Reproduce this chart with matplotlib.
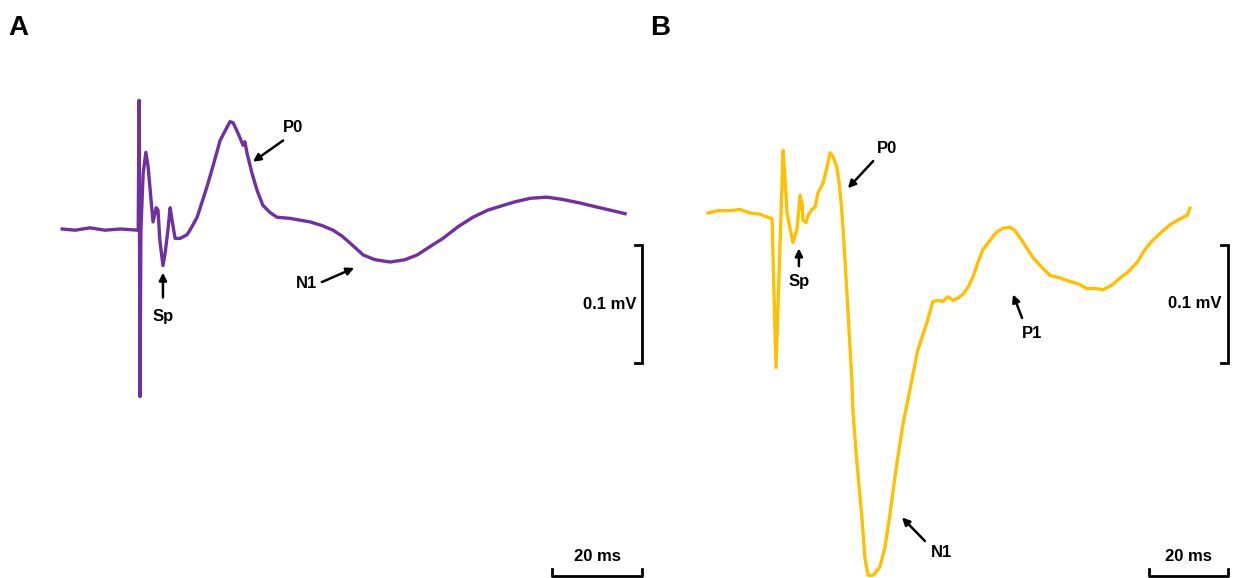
import numpy as np
import matplotlib.pyplot as plt

plt.rcParams['font.family'] = ['Liberation Sans', 'DejaVu Sans']

# panel A trace (time ms from stimulus, voltage mV)
t_a = [-17.3, -14.4, -11.1, -7.8, -4.4, -0.4, -0.2, 0.0, 0.2, 0.7, 1.3, 1.8, 2.4, 2.9, 3.6, 4.0,
       4.4, 5.1, 5.6, 6.2, 6.7, 7.1, 7.8, 8.9, 10.4, 11.1, 12.7, 14.9, 16.2, 17.8, 19.3, 20.0,
       20.7, 21.8, 22.9, 23.3, 23.8, 24.9, 26.0, 27.3, 28.9, 30.4, 33.3, 37.8, 40.4, 42.9, 44.9,
       46.7, 49.6, 52.2, 55.6, 58.9, 61.6, 64.4, 67.3, 70.7, 74.0, 77.3, 80.7, 83.3, 86.7, 90.4,
       94.0, 97.8, 102.2, 105.6, 107.8]
v_a = [0.0, -0.001, 0.001, -0.001, 0.0, -0.001, 0.109, -0.142, -0.001, 0.047, 0.065, 0.053,
       0.027, 0.006, 0.018, 0.016, -0.009, -0.031, -0.020, -0.001, 0.018, 0.008, -0.008, -0.008,
       -0.005, -0.001, 0.010, 0.036, 0.053, 0.075, 0.086, 0.091, 0.090, 0.081, 0.071, 0.074,
       0.064, 0.047, 0.033, 0.020, 0.014, 0.010, 0.009, 0.006, 0.003, -0.001, -0.006, -0.012,
       -0.022, -0.026, -0.028, -0.026, -0.022, -0.015, -0.008, 0.002, 0.010, 0.016, 0.020,
       0.023, 0.026, 0.027, 0.025, 0.022, 0.018, 0.015, 0.013]

# panel B trace
t_b = [-17.2, -14.7, -11.6, -9.1, -6.6, -4.1, -1.0, 0.0, 1.8, 2.3, 2.8, 3.5, 4.3, 5.3, 6.1,
       6.6, 6.8, 7.6, 8.1, 9.1, 9.9, 10.6, 11.9, 12.9, 13.7, 14.4, 15.4, 15.9, 16.5, 17.0, 17.5,
       18.2, 19.2, 19.5, 20.5, 21.8, 22.5, 23.3, 24.6, 26.3, 27.6, 28.9, 30.6, 32.2, 33.9, 35.9,
       38.2, 39.7, 41.0, 42.3, 43.5, 44.8, 46.1, 47.3, 48.6, 49.9, 51.1, 52.4, 54.2, 55.9, 57.5,
       59.2, 60.5, 61.8, 65.1, 67.3, 69.4, 71.9, 74.4, 76.5, 78.7, 80.8, 82.8, 85.1, 87.1, 89.1,
       91.4, 93.4, 95.4, 97.7, 99.7, 102.3, 104.1, 104.8]
v_b = [0.0, 0.002, 0.002, 0.003, 0.0, -0.001, -0.005, -0.131, 0.053, 0.028, 0.0, -0.012,
       -0.025, -0.014, 0.015, 0.008, -0.006, -0.008, -0.002, 0.003, 0.005, 0.017, 0.025, 0.039,
       0.051, 0.048, 0.039, 0.028, 0.008, -0.014, -0.042, -0.082, -0.142, -0.169, -0.212,
       -0.260, -0.292, -0.307, -0.307, -0.300, -0.283, -0.254, -0.212, -0.178, -0.150, -0.116,
       -0.093, -0.075, -0.074, -0.075, -0.071, -0.074, -0.072, -0.069, -0.063, -0.054, -0.042,
       -0.031, -0.023, -0.016, -0.013, -0.012, -0.015, -0.021, -0.038, -0.046, -0.053, -0.055,
       -0.058, -0.060, -0.064, -0.064, -0.065, -0.061, -0.055, -0.050, -0.042, -0.031, -0.023,
       -0.016, -0.010, -0.005, -0.002, 0.004]

# peak labels: (label, text pos, arrow tail, arrow tip)
peaks_a = [('P0', (34.0, 0.086), (31.8, 0.075), (25.1, 0.057)),
           ('Sp', (5.1, -0.074), (5.1, -0.058), (5.1, -0.037)),
           ('N1', (36.9, -0.046), (40.4, -0.045), (47.6, -0.033))]
peaks_b = [('P0', (28.1, 0.055), (24.6, 0.044), (18.2, 0.021)),
           ('Sp', (5.8, -0.058), (5.8, -0.045), (5.8, -0.030)),
           ('N1', (41.8, -0.288), (37.7, -0.278), (31.9, -0.258)),
           ('P1', (64.8, -0.102), (62.3, -0.089), (60.0, -0.069))]

W, H = 1233, 578
fig = plt.figure(figsize=(W / 100, H / 100), dpi=100)
MV_PX = 1180.0


def panel(x0, ms_px, base_px, t, v, color, peaks, bar_x, bar_top):
    ax = fig.add_axes([0, 0, 1, 1])
    ax.patch.set_alpha(0)
    ax.set_xlim(-x0 / ms_px, (W - x0) / ms_px)
    ax.set_ylim((base_px - H) / MV_PX, base_px / MV_PX)
    ax.axis('off')
    ax.plot(t, v, color=color, lw=2.4, solid_joinstyle='round', clip_on=False)
    for lab, tp, tail, tip in peaks:
        ax.text(tp[0], tp[1], lab, fontsize=12, fontweight='bold', ha='center', va='center')
        ax.annotate('', xy=tip, xytext=tail,
                    arrowprops=dict(arrowstyle='-|>', color='black', lw=1.8,
                                    mutation_scale=11, shrinkA=0, shrinkB=0))
    # scale bars
    tick_t = 7 / ms_px
    tick_v = 7 / MV_PX
    ax.plot([bar_x - tick_t, bar_x, bar_x, bar_x - tick_t],
            [bar_top, bar_top, bar_top - 0.1, bar_top - 0.1], color='black', lw=2,
            solid_joinstyle='miter')
    ax.text(bar_x - 6 / ms_px, bar_top - 0.05, '0.1 mV', fontsize=12, fontweight='bold',
            ha='right', va='center')
    yb = (base_px - 576) / MV_PX
    ax.plot([bar_x - 20, bar_x - 20, bar_x, bar_x], [yb + tick_v, yb, yb, yb + tick_v],
            color='black', lw=2, clip_on=False)
    ax.text(bar_x - 10, yb + 12 / MV_PX, '20 ms', fontsize=12, fontweight='bold',
            ha='center', va='bottom')
    return ax


panel(140, 4.5, 229, t_a, v_a, '#7030A0', peaks_a, 111.6, -0.0136)
panel(776, 3.95, 213, t_b, v_b, '#FFC000', peaks_b, 114.4, -0.027)

fig.text(18 / W, 1 - 28 / H, 'A', fontsize=20, fontweight='bold', ha='center', va='center')
fig.text(660 / W, 1 - 28 / H, 'B', fontsize=20, fontweight='bold', ha='center', va='center')

fig.savefig('out.png', dpi=100)
